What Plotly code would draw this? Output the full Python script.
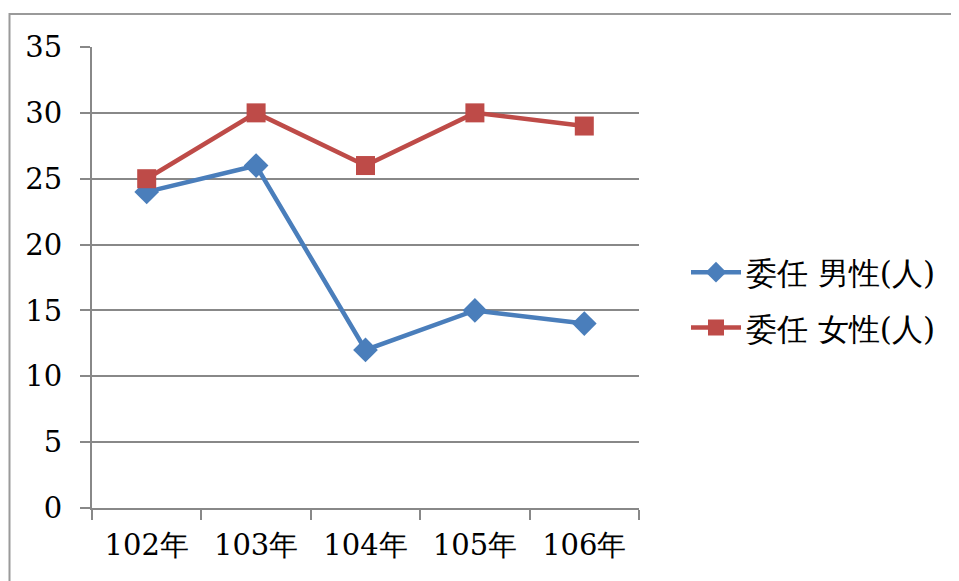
import plotly.graph_objects as go

categories = ["102年", "103年", "104年", "105年", "106年"]
male = [24, 26, 12, 15, 14]
female = [25, 30, 26, 30, 29]
series_names = ["委任 男性(人)", "委任 女性(人)"]

FONT = "DejaVu Serif"

OFF = 8  # page body margin
L, R, T, B = 92 - OFF, 959 - 639 + OFF, 47 - OFF, 581 - 508 + OFF
W, H = 959, 581
pw, ph = W - L - R, H - T - B

fig = go.Figure()
fig.add_trace(go.Scatter(
    x=categories, y=male, name=series_names[0], mode="lines+markers",
    line=dict(color="#4a7ebb", width=4.5),
    marker=dict(symbol="diamond", size=19, color="#4a7ebb"),
    legendgroup="a",
))
fig.add_trace(go.Scatter(
    x=categories, y=female, name=series_names[1], mode="lines+markers",
    line=dict(color="#be4b48", width=4.5),
    marker=dict(symbol="square", size=19, color="#be4b48"),
    legendgroup="b",
))

# outer chart border
fig.add_shape(type="rect", xref="paper", yref="paper",
              x0=(9.5 - OFF - L) / pw, x1=(W + 20 - L) / pw,
              y0=(H - B - (H + 20)) / ph, y1=(H - B - (14 - OFF)) / ph,
              line=dict(color="#9a9a9a", width=2), layer="below")

fig.update_layout(
    width=W, height=H,
    margin=dict(l=L, r=R, t=T, b=B, pad=0),
    paper_bgcolor="white", plot_bgcolor="white",
    font=dict(family=FONT, size=29, color="black"),
    showlegend=True,
    legend=dict(x=(686 - OFF - L) / pw, y=(H - B - (300 - OFF)) / ph,
                xanchor="left", yanchor="middle",
                font=dict(family=FONT, size=31, color="black"),
                traceorder="grouped", tracegroupgap=12, itemwidth=50,
                bgcolor="rgba(0,0,0,0)"),
    xaxis=dict(type="category", range=[-0.5, 4.5], showgrid=False,
               showline=True, linecolor="#888888", linewidth=2,
               ticks="outside", ticklen=10, tickcolor="#888888", tickwidth=2,
               tickson="boundaries", zeroline=False, ticklabelstandoff=10,
               tickfont=dict(family=FONT, size=29)),
    yaxis=dict(range=[0, 35], dtick=5, tick0=0,
               showgrid=True, gridcolor="#888888", gridwidth=1.5,
               showline=True, linecolor="#888888", linewidth=2,
               ticks="outside", ticklen=10, tickcolor="#888888", tickwidth=2,
               zeroline=False, ticklabelstandoff=12,
               tickfont=dict(family=FONT, size=29)),
)

fig.write_html("out.html")
